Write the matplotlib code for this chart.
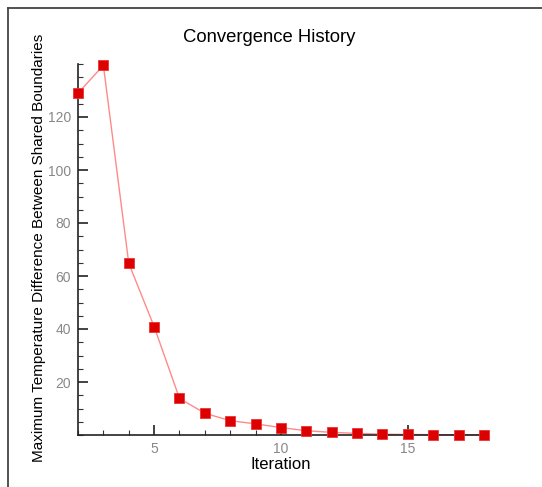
import matplotlib
matplotlib.use("Agg")
import matplotlib.pyplot as plt
from matplotlib.lines import Line2D
from matplotlib.ticker import MultipleLocator

iterations = [2, 3, 4, 5, 6, 7, 8, 9, 10, 11, 12, 13, 14, 15, 16, 17, 18]
max_diff = [129.0, 139.5, 64.8, 40.9, 13.8, 8.2, 5.4, 4.2, 2.8, 1.6, 1.0, 0.6,
            0.3, 0.2, 0.12, 0.08, 0.05]
x_ticks = [5, 10, 15]
y_ticks = [20, 40, 60, 80, 100, 120]

plt.rcParams['font.family'] = ['Liberation Sans', 'DejaVu Sans']

fig = plt.figure(figsize=(5.42, 4.87), dpi=100)
ax = fig.add_axes([78/542, 52/487, (484-78)/542, (435-64)/487])

ax.plot(iterations, max_diff, color='#ff8a8a', lw=1.0, zorder=2, clip_on=False)
ax.plot(iterations, max_diff, ls='none', marker='s', ms=7, mfc='#dd0000',
        mec='#ee3333', mew=0.6, zorder=3, clip_on=False)

ax.set_xlim(2, 18)
ax.set_ylim(0, 140)
ax.set_xticks(x_ticks)
ax.set_yticks(y_ticks)
ax.xaxis.set_minor_locator(MultipleLocator(1))
ax.yaxis.set_minor_locator(MultipleLocator(5))
ax.tick_params(which='major', direction='in', length=7, width=1.2, colors='#222222',
               labelcolor='#888888', labelsize=10, pad=5)
ax.tick_params(which='minor', direction='in', length=3.5, width=0.8, colors='#333333')
for s in ['top', 'right']:
    ax.spines[s].set_visible(False)
for s in ['left', 'bottom']:
    ax.spines[s].set_linewidth(1.2)
    ax.spines[s].set_color('#222222')

fig.text(269/542, 1 - 38/487, 'Convergence History', fontsize=13.3,
         ha='center', va='center')
ax.set_xlabel('Iteration', fontsize=12, labelpad=1)
ax.set_ylabel('Maximum Temperature Difference Between Shared Boundaries', fontsize=11.0)
ax.yaxis.set_label_coords(-0.079, 0.505)

fig.add_artist(Line2D([7.5/542, 1], [1 - 7.5/487, 1 - 7.5/487], transform=fig.transFigure,
                      color='#444444', lw=1.3))
fig.add_artist(Line2D([7.5/542, 7.5/542], [0, 1 - 7.5/487], transform=fig.transFigure,
                      color='#444444', lw=1.3))

fig.savefig('out.png', dpi=100)
